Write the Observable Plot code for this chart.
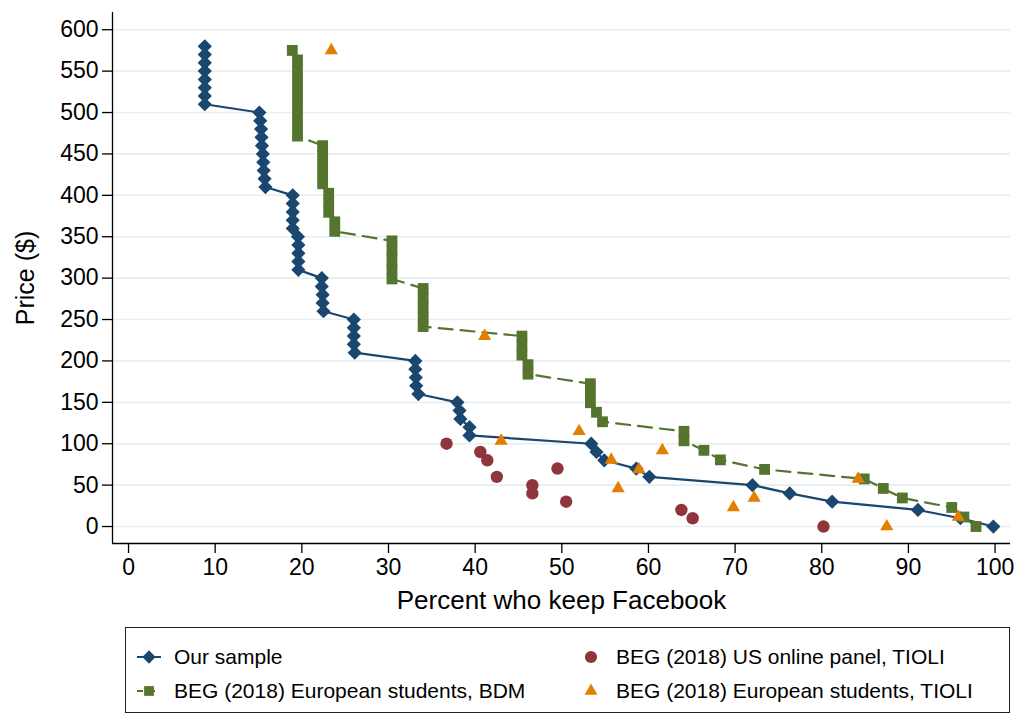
<!DOCTYPE html>
<html><head><meta charset="utf-8">
<script src="https://cdn.jsdelivr.net/npm/d3@7"></script>
<script src="https://cdn.jsdelivr.net/npm/@observablehq/plot@0.6"></script>
<style>
body{margin:0;background:#fff;font-family:"Liberation Sans",Arial,sans-serif;}
#wrap{position:relative;width:1019px;height:713px;overflow:hidden;}
#legend{position:absolute;left:125px;top:627px;width:885px;height:86px;border:1.5px solid #222;box-sizing:border-box;background:#fff;}
.item{position:absolute;height:30px;display:flex;align-items:center;font-size:21px;color:#000;white-space:nowrap;}
.item svg{margin-right:12px;}
</style></head><body>
<div id="wrap"><div id="chart"></div><div id="legend"></div></div>
<script>
// ---- data ----
const ourPrice = [580,570,560,550,540,530,520,510,500,490,480,470,460,450,440,430,420,410,400,390,380,370,360,350,340,330,320,310,300,290,280,270,260,250,240,230,220,210,200,190,180,170,160,150,140,130,120,110,100,90,80,70,60,50,40,30,20,10,0];
const ourPct = [8.8,8.8,8.8,8.8,8.8,8.8,8.8,8.8,15.1,15.2,15.3,15.35,15.4,15.5,15.55,15.6,15.7,15.8,18.95,18.95,18.95,18.95,18.95,19.55,19.6,19.6,19.6,19.6,22.3,22.3,22.4,22.4,22.5,26.0,26.0,26.0,26.0,26.1,33.1,33.1,33.15,33.2,33.45,37.95,38.2,38.3,39.35,39.35,53.4,54.0,54.9,58.6,60.1,72.0,76.3,81.2,91.1,96.0,99.8];

const bdmPrice = [0,11.5,23,34.5,46,57.5,69,80.5,92,103.5,115,126.5,138,149.5,161,172.5,184,195.5,207,218.5,230,241.5,253,264.5,276,287.5,299,310.5,322,333.5,345,356.5,368,379.5,391,402.5,414,425.5,437,448.5,460,471.5,483,494.5,506,517.5,529,540.5,552,563.5,575];
const bdmPct = [97.8,96.4,95.0,89.3,87.1,84.9,73.4,68.3,66.4,64.1,64.1,54.7,54.0,53.3,53.3,53.3,46.1,46.1,45.4,45.4,45.4,34.0,34.0,34.0,34.0,34.0,30.4,30.4,30.4,30.4,30.4,23.8,23.8,23.1,23.1,23.1,22.4,22.4,22.4,22.4,22.4,19.5,19.5,19.5,19.5,19.5,19.5,19.5,19.5,19.5,18.9];

const usPrice = [100,90,80,70,60,50,40,30,20,10,0];
const usPct = [36.7,40.6,41.4,49.5,42.5,46.6,46.6,50.5,63.8,65.1,80.2];

const tioliPrice = [575,230,115,103.5,92,80.5,69,57.5,46,34.5,23,11.5,0];
const tioliPct = [23.4,41.1,52.0,43.0,61.6,55.7,58.9,84.2,56.5,72.2,69.8,95.75,87.5];

const xTicks = [0,10,20,30,40,50,60,70,80,90,100];
const yTicks = [0,50,100,150,200,250,300,350,400,450,500,550,600];
const xTitle = "Percent who keep Facebook";
const yTitle = "Price ($)";
const seriesNames = ["Our sample","BEG (2018) US online panel, TIOLI","BEG (2018) European students, BDM","BEG (2018) European students, TIOLI"];

// ---- styling ----
const blue="#1a476f", green="#55752f", red="#90353b", orange="#e37e00";
const diamond = {draw(ctx,size){const r=Math.sqrt(size)*0.62625;ctx.moveTo(0,-r);ctx.lineTo(r,0);ctx.lineTo(0,r);ctx.lineTo(-r,0);ctx.closePath();}};

const zip = (p,v)=>p.map((d,i)=>({pct:d, price:v[i]}));
const our = zip(ourPct, ourPrice), bdm = zip(bdmPct, bdmPrice), us = zip(usPct, usPrice), tioli = zip(tioliPct, tioliPrice);

const xDom=[-1.85,101.78], yDom=[-20.5,620.8];
const chart = Plot.plot({
  width:1019, height:620, marginLeft:112, marginRight:9, marginTop:12, marginBottom:77,
  style:{fontFamily:'"Liberation Sans", Arial, sans-serif', background:"#fff", color:"#000", overflow:"visible"},
  x:{domain:xDom, axis:null},
  y:{domain:yDom, axis:null},
  marks:[
    Plot.gridY(yTicks,{stroke:"#e6eef1", strokeOpacity:1, strokeWidth:1.6}),
    Plot.axisX(xTicks,{tickSize:10, tickPadding:5, fontSize:23, label:null, strokeWidth:1.3}),
    Plot.axisY(yTicks,{tickSize:10, tickPadding:4, fontSize:23, label:null, strokeWidth:1.3}),
    Plot.ruleY([yDom[0]],{stroke:"#000", strokeWidth:1.3}),
    Plot.ruleX([xDom[0]],{stroke:"#000", strokeWidth:1.3}),
    Plot.text([xTitle],{frameAnchor:"bottom", dy:57, lineAnchor:"middle", textAnchor:"middle", fontSize:26, fill:"#000"}),
    Plot.text([yTitle],{frameAnchor:"left", dx:-87, rotate:-90, lineAnchor:"middle", textAnchor:"middle", fontSize:25, fill:"#000"}),
    Plot.line(our,{x:"pct", y:"price", stroke:blue, strokeWidth:2.2}),
    Plot.dot(our,{x:"pct", y:"price", symbol:diamond, r:6.4, fill:blue}),
    Plot.line(bdm,{x:"pct", y:"price", stroke:green, strokeWidth:2.2, strokeDasharray:"14,8"}),
    Plot.dot(bdm,{x:"pct", y:"price", symbol:"square", r:6.1, fill:green}),
    Plot.dot(us,{x:"pct", y:"price", symbol:"circle", r:6.2, fill:red}),
    Plot.dot(tioli,{x:"pct", y:"price", symbol:"triangle", r:4.9, fill:orange})
  ]
});
document.getElementById("chart").appendChild(chart);

// ---- legend ----
function keySvg(sym, r, color, line, dash){
  const w=26,h=20;
  const path = d3.symbol(sym, r*r*Math.PI)();
  let s = `<svg width="${w}" height="${h}" viewBox="${-w/2} ${-h/2} ${w} ${h}">`;
  if(line) s += `<line x1="${-w/2+1}" x2="${w/2-1}" y1="0" y2="0" stroke="${color}" stroke-width="2" ${dash?`stroke-dasharray="${dash}"`:""}/>`;
  s += `<path d="${path}" fill="${color}"/></svg>`;
  return s;
}
const legendItems = [
  {name:seriesNames[0], sym:diamond, r:6, color:blue, line:true, left:10, top:14},
  {name:seriesNames[1], sym:d3.symbolCircle, r:6.1, color:red, line:false, left:452, top:14},
  {name:seriesNames[2], sym:d3.symbolSquare, r:5.5, color:green, line:true, dash:"6,6", left:10, top:48},
  {name:seriesNames[3], sym:d3.symbolTriangle, r:4.8, color:orange, line:false, left:452, top:48}
];
const leg = document.getElementById("legend");
for(const it of legendItems){
  const div=document.createElement("div");
  div.className="item";
  div.style.left=it.left+"px"; div.style.top=it.top+"px";
  div.innerHTML = keySvg(it.sym,it.r,it.color,it.line,it.dash) + `<span>${it.name}</span>`;
  leg.appendChild(div);
}
</script></body></html>
